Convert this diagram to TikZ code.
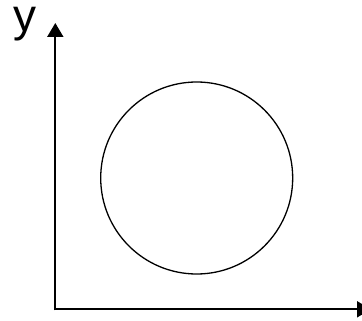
\documentclass[tikz,border=0pt]{standalone}
\usepackage{fontspec}
\setmainfont{Liberation Sans}
\usetikzlibrary{arrows.meta}
\begin{document}
\begin{tikzpicture}[x=1pt,y=-1pt,
  axis/.style={line width=2pt,-{Triangle[length=14pt,width=16pt]}},
  ring/.style={circle,draw,line width=1.3pt,minimum size=192pt,inner sep=0pt}]
\useasboundingbox (0,0) rectangle (362,321);
\coordinate (o) at (55.3,309.3);
\coordinate (ytip) at (55.3,23);
\coordinate (xtip) at (371,309.3);
\draw[axis] ([yshift=-1pt]o) -- (ytip);
\draw[axis] ([xshift=-1pt]o) -- (xtip);
\node[ring] (c) at (196.7,178) {};
\node[anchor=base west,inner sep=0pt,font=\fontsize{46}{46}\selectfont] (ylab) at (13.5,32) {y};
\end{tikzpicture}
\end{document}
